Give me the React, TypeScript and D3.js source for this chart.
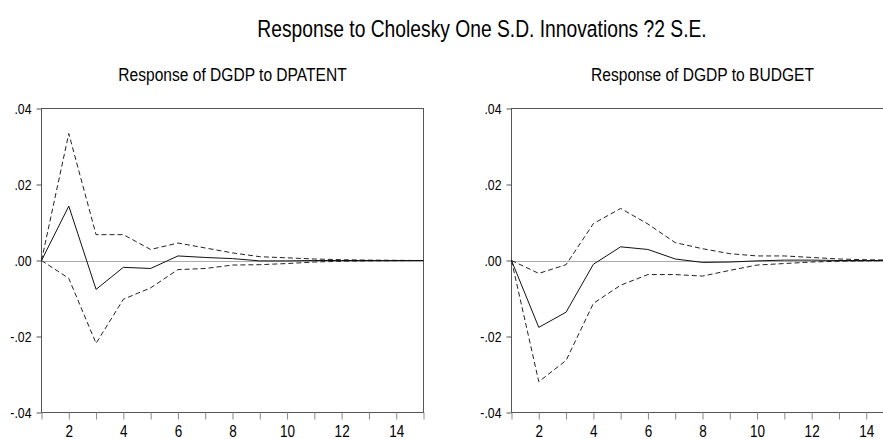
import React, { useRef, useEffect } from "react";
import * as d3 from "d3";

// periods 1..15
const periods = d3.range(1, 16);

// Response of DGDP to DPATENT
const patentResp = [0, 0.0143, -0.0076, -0.0018, -0.0021, 0.0012, 0.0008, 0.0005, -0.0001, -0.0001, 0, 0, 0, 0, 0];
const patentUpper = [0, 0.0334, 0.0068, 0.0068, 0.0029, 0.0046, 0.0033, 0.002, 0.001, 0.0007, 0.0004, 0.0002, 0.0001, 0.00005, 0];
const patentLower = [0, -0.0047, -0.0218, -0.0102, -0.0072, -0.0024, -0.0021, -0.0012, -0.0011, -0.0008, -0.0004, -0.0002, -0.0001, -0.00005, 0];

// Response of DGDP to BUDGET
const budgetResp = [0, -0.0176, -0.0136, -0.001, 0.0036, 0.0029, 0.0004, -0.0005, -0.0004, -0.0001, 0.0001, 0.0001, 0, 0, 0];
const budgetUpper = [0, -0.0034, -0.0011, 0.0097, 0.0137, 0.0096, 0.0047, 0.0031, 0.0018, 0.0012, 0.0012, 0.0008, 0.0004, 0.0002, 0.0001];
const budgetLower = [0, -0.0319, -0.0263, -0.0113, -0.0065, -0.0037, -0.0037, -0.0041, -0.0026, -0.0012, -0.0008, -0.0004, -0.0002, -0.0001, 0];

const yTicks = [0.04, 0.02, 0, -0.02, -0.04];
const xTicks = [2, 4, 6, 8, 10, 12, 14];

const mainTitle = "Response to Cholesky One S.D. Innovations ?2 S.E.";

const panels = [
  { title: "Response of DGDP to DPATENT", resp: patentResp, upper: patentUpper, lower: patentLower, left: 41.5 },
  { title: "Response of DGDP to BUDGET", resp: budgetResp, upper: budgetUpper, lower: budgetLower, left: 511.5 },
];

// no Arial Narrow around, so squeeze Liberation Sans sideways
const FONT = "'Liberation Sans', Arial, sans-serif";
const SX = 0.82;

const App = () => {
  const svgRef = useRef<SVGSVGElement>(null);
  const width = 883;
  const height = 439;

  useEffect(() => {
    const svgEl = d3.select(svgRef.current);
    svgEl.selectAll("*").remove();

    const narrowText = (parent: any, x: number, y: number, size: number, txt: string) =>
      parent
        .append("text")
        .attr("transform", `translate(${x},${y}) scale(${SX},1)`)
        .attr("text-anchor", "middle")
        .attr("font-family", FONT)
        .attr("font-size", size)
        .attr("fill", "#000")
        .text(txt);

    narrowText(svgEl, 482, 36.5, 23.5, mainTitle);

    const top = 108.5;
    const bottom = 412.5;
    const plotW = 382;

    panels.forEach((p) => {
      const g = svgEl.append("g");
      const xScale = d3.scaleLinear().domain([1, 15]).range([p.left, p.left + plotW]);
      const yScale = d3.scaleLinear().domain([-0.04, 0.04]).range([bottom, top]);

      narrowText(g, p.left + 191, 80.5, 19, p.title);

      // zero line
      g.append("line")
        .attr("x1", xScale(1))
        .attr("x2", xScale(15))
        .attr("y1", Math.round(yScale(0)) + 0.5)
        .attr("y2", Math.round(yScale(0)) + 0.5)
        .attr("stroke", "#aaa")
        .attr("stroke-width", 1);

      // frame
      g.append("rect")
        .attr("x", p.left)
        .attr("y", top)
        .attr("width", plotW)
        .attr("height", bottom - top)
        .attr("fill", "none")
        .attr("stroke", "#555")
        .attr("stroke-width", 1);

      // y axis
      const yAxis = d3
        .axisLeft(yScale)
        .tickValues(yTicks)
        .tickSize(5)
        .tickPadding(5)
        .tickFormat((v) => d3.format(".2f")(v as number).replace("0.", ".").replace("\u2212", "-"));
      const yAxisGroup = g.append("g").attr("transform", `translate(${p.left},0)`).call(yAxis);
      yAxisGroup.select(".domain").remove();
      yAxisGroup.selectAll("line").attr("stroke", "#555");
      yAxisGroup
        .selectAll("text")
        .attr("x", -10 / SX)
        .attr("transform", `scale(${SX},1)`)
        .attr("font-family", FONT)
        .attr("font-size", 15)
        .attr("fill", "#000");

      // x axis
      const xAxis = d3
        .axisBottom(xScale)
        .tickValues(periods)
        .tickSize(7)
        .tickPadding(6)
        .tickFormat((v) => (xTicks.includes(v as number) ? `${v}` : ""));
      const xAxisGroup = g.append("g").attr("transform", `translate(0,${bottom})`).call(xAxis);
      xAxisGroup.select(".domain").remove();
      xAxisGroup.selectAll("line").attr("stroke", "#888");
      xAxisGroup
        .selectAll("text")
        .attr("transform", `scale(${SX},1)`)
        .attr("font-family", FONT)
        .attr("font-size", 16.5)
        .attr("fill", "#000");

      const line = d3
        .line<number>()
        .x((_, i) => xScale(periods[i]))
        .y((d) => yScale(d));

      [p.upper, p.lower].forEach((s) => {
        g.append("path")
          .attr("d", line(s))
          .attr("fill", "none")
          .attr("stroke", "#222")
          .attr("stroke-width", 1)
          .attr("stroke-dasharray", "5,3");
      });
      g.append("path")
        .attr("d", line(p.resp))
        .attr("fill", "none")
        .attr("stroke", "#111")
        .attr("stroke-width", 1);
    });
  }, []);

  return (
    <svg
      ref={svgRef}
      width={width}
      height={height}
      style={{ position: "absolute", left: 0, top: 0, background: "#fff" }}
    />
  );
};

export default App;
